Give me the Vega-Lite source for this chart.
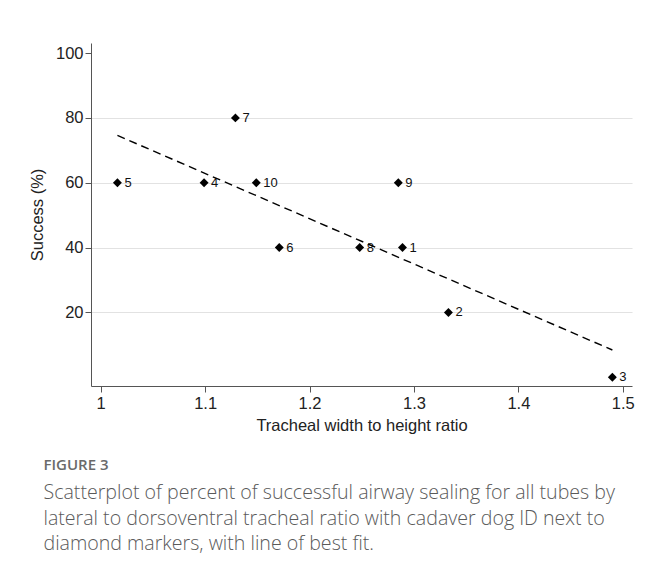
{
  "$schema": "https://vega.github.io/schema/vega-lite/v6.json",
  "width": 541,
  "height": 343,
  "autosize": "none",
  "padding": {"left": 91, "top": 43, "right": 16, "bottom": 179},
  "background": "white",
  "config": {
    "view": {"stroke": null},
    "font": "Liberation Sans",
    "axis": {
      "labelFont": "Liberation Sans",
      "titleFont": "Liberation Sans",
      "domainColor": "#555555",
      "tickColor": "#555555",
      "labelColor": "#222222",
      "titleColor": "#222222",
      "labelFontSize": 16.5,
      "titleFontSize": 16.5,
      "titleFontWeight": "normal"
    }
  },
  "title": {
    "text": "FIGURE 3",
    "subtitle": [
      "Scatterplot of percent of successful airway sealing for all tubes by",
      "lateral to dorsoventral tracheal ratio with cadaver dog ID next to",
      "diamond markers, with line of best fit."
    ],
    "orient": "bottom",
    "anchor": "start",
    "frame": "bounds",
    "font": "Open Sans",
    "fontSize": 15,
    "fontWeight": 600,
    "color": "#6a6a6a",
    "subtitleFont": "Open Sans",
    "subtitleFontSize": 19.6,
    "subtitleFontWeight": 300,
    "subtitleColor": "#5a5a5a",
    "subtitleLineHeight": 25.5,
    "subtitlePadding": 11,
    "offset": 24,
    "dx": 14
  },
  "datasets": {
    "points": [
      {"id": "1", "ratio": 1.289, "success": 40},
      {"id": "2", "ratio": 1.333, "success": 20},
      {"id": "3", "ratio": 1.49, "success": 0},
      {"id": "4", "ratio": 1.099, "success": 60},
      {"id": "5", "ratio": 1.016, "success": 60},
      {"id": "6", "ratio": 1.171, "success": 40},
      {"id": "7", "ratio": 1.129, "success": 80},
      {"id": "8", "ratio": 1.248, "success": 40},
      {"id": "9", "ratio": 1.285, "success": 60},
      {"id": "10", "ratio": 1.149, "success": 60}
    ],
    "fit": [
      {"ratio": 1.016, "success": 74.6},
      {"ratio": 1.49, "success": 8.4}
    ]
  },
  "layer": [
    {
      "data": {"name": "points"},
      "mark": {"type": "point", "shape": "diamond", "filled": true, "color": "black", "size": 80, "opacity": 1},
      "encoding": {
        "x": {
          "field": "ratio", "type": "quantitative",
          "scale": {"domain": [0.9907, 1.5088], "nice": false, "zero": false},
          "axis": {
            "title": "Tracheal width to height ratio",
            "values": [1, 1.1, 1.2, 1.3, 1.4, 1.5],
            "format": "~g",
            "grid": false,
            "tickSize": 6,
            "labelPadding": 3,
            "titlePadding": 6
          }
        },
        "y": {
          "field": "success", "type": "quantitative",
          "scale": {"domain": [-2.7, 103.1], "nice": false, "zero": false},
          "axis": {
            "title": "Success (%)",
            "values": [20, 40, 60, 80, 100],
            "grid": true,
            "gridColor": {"condition": {"test": "datum.value >= 100", "value": "transparent"}, "value": "#e2e2e2"},
            "gridWidth": 1.2,
            "tickSize": 6,
            "labelPadding": 2,
            "titlePadding": 10
          }
        }
      }
    },
    {
      "data": {"name": "points"},
      "mark": {"type": "text", "align": "left", "baseline": "middle", "dx": 7, "fontSize": 13, "color": "#111111"},
      "encoding": {
        "x": {"field": "ratio", "type": "quantitative"},
        "y": {"field": "success", "type": "quantitative"},
        "text": {"field": "id"}
      }
    },
    {
      "data": {"name": "fit"},
      "mark": {"type": "line", "color": "black", "strokeWidth": 1.4, "strokeDash": [8, 5]},
      "encoding": {
        "x": {"field": "ratio", "type": "quantitative"},
        "y": {"field": "success", "type": "quantitative"}
      }
    }
  ]
}
